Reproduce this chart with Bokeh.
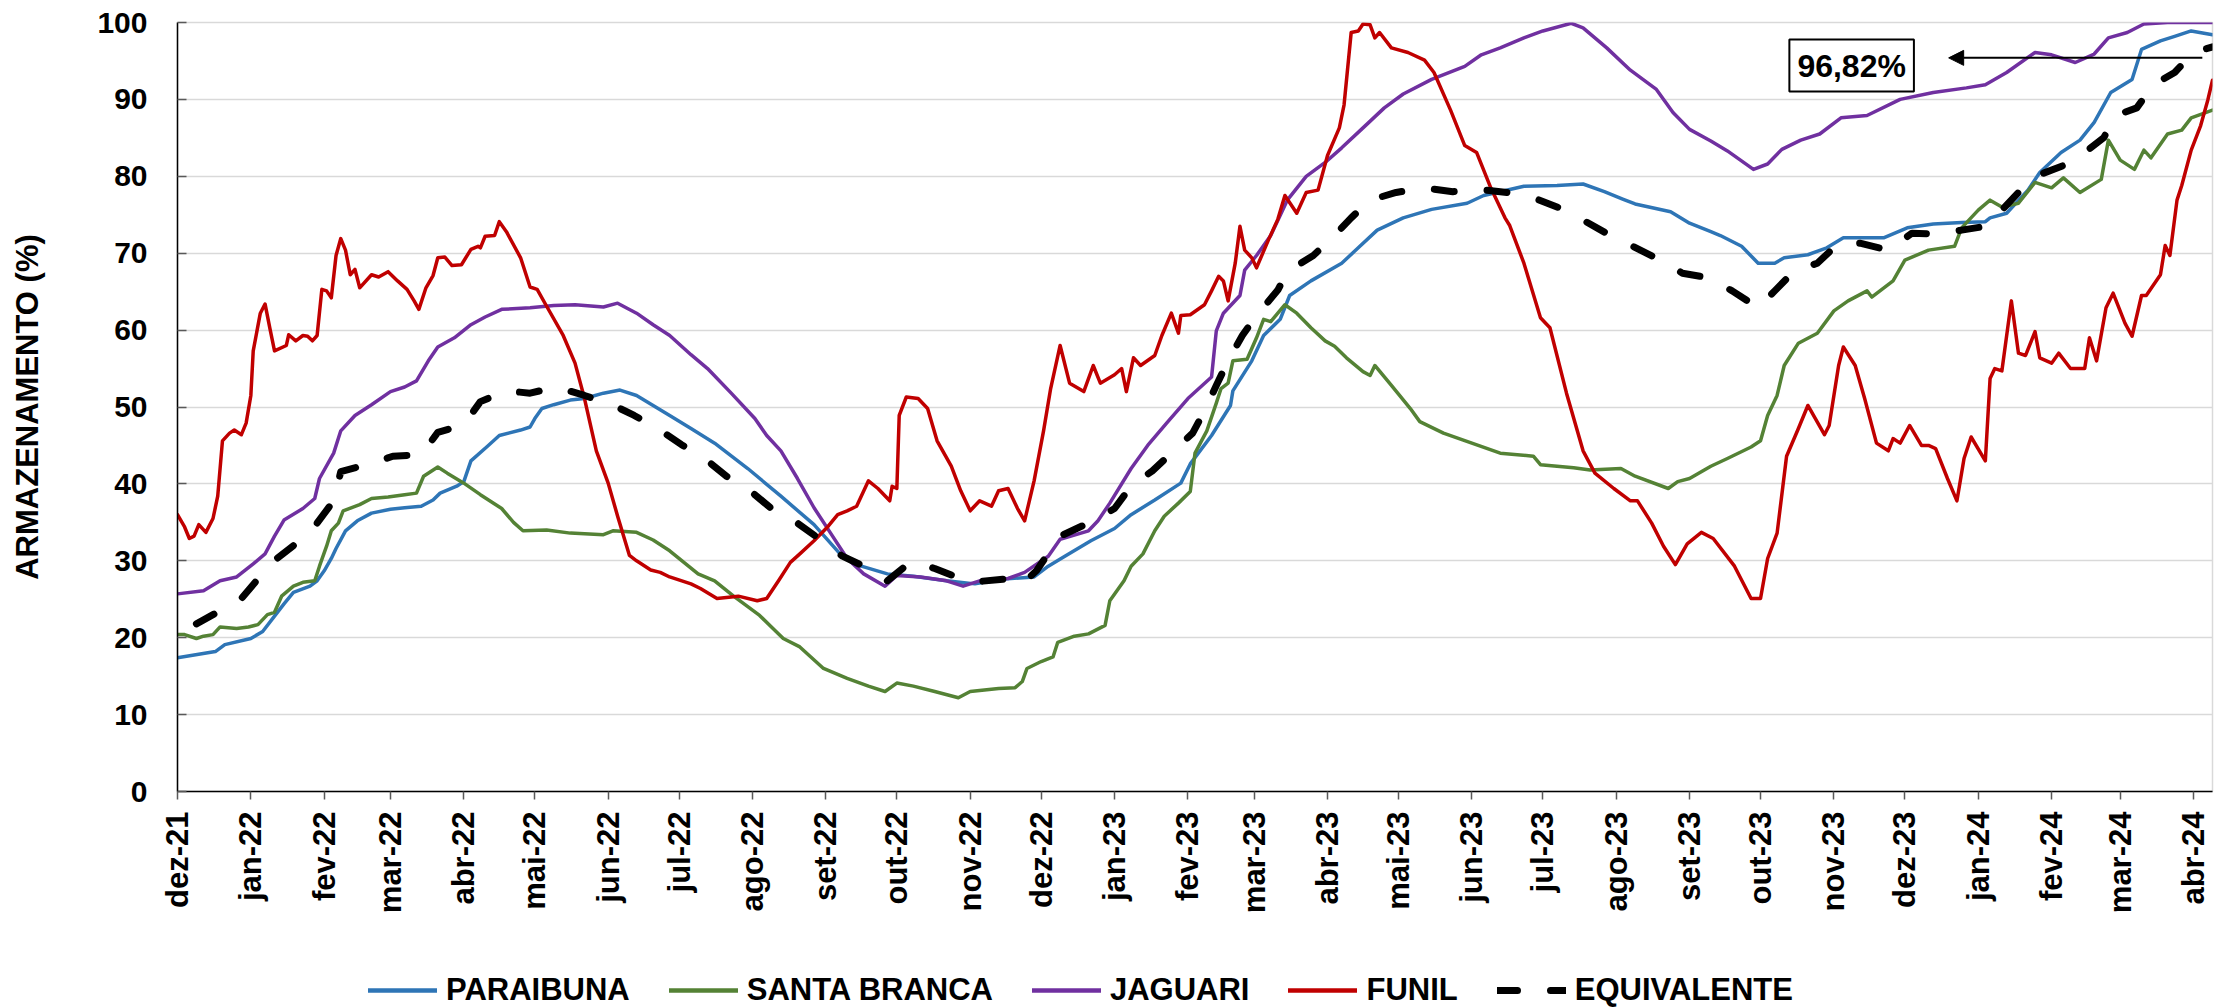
import math
import pandas as pd
from bokeh.plotting import figure
from bokeh.layouts import column
from bokeh.models import Range1d, FixedTicker, Legend, LegendItem, Label, Arrow, NormalHead
from bokeh.embed import file_html
from bokeh.resources import INLINE

# ---------------- data (x = days since 2021-12-01, y = % storage) ----------------
START = "2021-12-01"
month_labels = ["dez-21", "jan-22", "fev-22", "mar-22", "abr-22", "mai-22", "jun-22", "jul-22",
                "ago-22", "set-22", "out-22", "nov-22", "dez-22", "jan-23", "fev-23", "mar-23",
                "abr-23", "mai-23", "jun-23", "jul-23", "ago-23", "set-23", "out-23", "nov-23",
                "dez-23", "jan-24", "fev-24", "mar-24", "abr-24"]

paraibuna_day = [0, 16, 20, 31, 36, 41, 45, 49, 56, 59, 62, 65, 67, 71, 76, 82, 90, 96, 103, 108,
                 111, 118, 121, 124, 131, 136, 145, 149, 151, 154, 159, 166, 172, 180, 187, 194, 201, 208, 217, 227,
                 241, 255, 269, 280, 289, 300, 311, 325, 337, 348, 362, 368, 375, 386, 396, 403, 413, 424, 428, 437,
                 445, 446, 454, 459, 466, 470, 479, 492, 499, 507, 518, 530, 545, 552, 569, 583, 594, 603, 611, 616,
                 631, 639, 648, 652, 661, 668, 675, 679, 689, 697, 704, 721, 731, 742, 754, 764, 766, 773, 782, 787,
                 796, 804, 810, 817, 826, 830, 838, 844, 851, 860]
paraibuna_pct = [17.4, 18.2, 19.1, 19.9, 20.8, 22.8, 24.4, 25.9, 26.7, 27.4, 28.7, 30.3, 31.6, 33.9, 35.2, 36.2, 36.7, 36.9, 37.1, 37.9,
                 38.8, 39.7, 40.3, 43.0, 44.9, 46.3, 47.0, 47.4, 48.5, 49.8, 50.3, 50.9, 51.1, 51.8, 52.2, 51.5, 50.2, 48.9, 47.2, 45.3,
                 42.0, 38.4, 34.7, 30.9, 29.3, 28.3, 28.0, 27.4, 27.0, 27.6, 27.9, 29.3, 30.6, 32.6, 34.2, 36.0, 37.9, 40.1, 42.6, 46.3,
                 50.2, 52.1, 56.0, 59.3, 61.4, 64.5, 66.4, 68.7, 70.7, 73.0, 74.6, 75.7, 76.5, 77.5, 78.7, 78.8, 79.0, 78.0, 77.0, 76.4,
                 75.4, 73.9, 72.8, 72.3, 70.9, 68.7, 68.7, 69.4, 69.8, 70.7, 72.0, 72.0, 73.3, 73.8, 74.0, 74.1, 74.6, 75.2, 78.2, 80.5,
                 83.1, 84.7, 87.0, 90.9, 92.6, 96.5, 97.6, 98.2, 98.9, 98.4]

santa_branca_day = [0, 3, 8, 11, 15, 18, 25, 30, 34, 38, 41, 44, 49, 53, 58, 60, 63, 65, 68, 70,
                    77, 82, 89, 96, 101, 104, 110, 114, 121, 128, 137, 142, 146, 156, 166, 180, 184, 194, 201, 208,
                    220, 227, 235, 246, 251, 256, 263, 273, 283, 292, 299, 304, 311, 320, 330, 335, 347, 354, 357, 359,
                    365, 370, 372, 379, 385, 392, 394, 400, 403, 408, 413, 417, 423, 428, 430, 435, 439, 441, 444, 446,
                    452, 456, 459, 462, 468, 473, 479, 485, 489, 494, 501, 504, 506, 513, 521, 525, 535, 547, 559, 573,
                    576, 590, 597, 610, 616, 630, 634, 639, 648, 655, 665, 669, 672, 676, 679, 685, 693, 700, 706, 714,
                    716, 725, 730, 740, 751, 754, 761, 766, 771, 778, 785, 792, 797, 804, 813, 816, 821, 827, 831, 834,
                    841, 847, 851, 860]
santa_branca_pct = [20.4, 20.4, 19.9, 20.2, 20.4, 21.4, 21.2, 21.4, 21.7, 23.0, 23.3, 25.4, 26.7, 27.2, 27.4, 29.3, 31.9, 33.9, 34.9, 36.5,
                    37.3, 38.1, 38.3, 38.6, 38.8, 41.0, 42.2, 41.4, 40.1, 38.6, 36.8, 35.0, 33.9, 34.0, 33.6, 33.4, 33.9, 33.7, 32.7, 31.3,
                    28.3, 27.4, 25.4, 22.9, 21.4, 19.9, 18.8, 16.0, 14.7, 13.7, 13.0, 14.1, 13.7, 13.0, 12.2, 13.0, 13.4, 13.5, 14.3, 16.0,
                    16.9, 17.5, 19.4, 20.2, 20.5, 21.6, 24.8, 27.4, 29.3, 30.9, 33.9, 35.8, 37.5, 39.0, 44.0, 46.9, 50.5, 52.4, 53.1, 56.0,
                    56.2, 59.0, 61.4, 61.1, 63.3, 62.2, 60.3, 58.6, 57.9, 56.4, 54.6, 54.1, 55.4, 52.8, 49.8, 48.1, 46.6, 45.3, 44.0, 43.6,
                    42.5, 42.1, 41.8, 42.0, 41.0, 39.4, 40.3, 40.7, 42.3, 43.3, 44.8, 45.6, 48.9, 51.5, 55.4, 58.3, 59.6, 62.5, 63.8, 65.1,
                    64.3, 66.4, 69.1, 70.4, 70.9, 73.3, 75.6, 76.9, 76.0, 76.5, 79.2, 78.5, 79.8, 77.9, 79.6, 84.7, 82.1, 80.9, 83.4, 82.4,
                    85.5, 86.0, 87.6, 88.6]

jaguari_day = [0, 11, 18, 25, 32, 37, 41, 45, 53, 58, 60, 66, 69, 75, 82, 90, 96, 101, 106, 110,
               117, 124, 130, 137, 149, 159, 168, 180, 186, 194, 201, 208, 217, 224, 234, 244, 249, 255, 262, 269,
               276, 283, 290, 299, 304, 314, 325, 332, 339, 351, 358, 368, 373, 385, 389, 394, 403, 410, 418, 427,
               437, 439, 442, 449, 451, 456, 462, 469, 477, 485, 492, 501, 510, 518, 530, 544, 551, 559, 569, 577,
               589, 594, 604, 614, 625, 632, 639, 648, 655, 666, 672, 678, 686, 694, 703, 714, 728, 742, 756, 764,
               773, 785, 792, 802, 810, 816, 824, 831, 841, 860]
jaguari_pct = [25.7, 26.1, 27.4, 27.9, 29.6, 30.9, 33.2, 35.3, 36.8, 38.1, 40.7, 44.0, 46.9, 48.9, 50.3, 52.0, 52.6, 53.4, 56.0, 57.8,
               59.0, 60.7, 61.7, 62.7, 62.9, 63.2, 63.3, 63.0, 63.5, 62.2, 60.7, 59.3, 56.8, 55.0, 51.8, 48.5, 46.3, 44.3, 40.7, 36.9,
               33.6, 30.3, 28.3, 26.7, 28.1, 27.9, 27.4, 26.7, 27.4, 27.7, 28.5, 30.6, 32.8, 33.9, 35.2, 37.5, 42.0, 45.0, 47.9, 51.1,
               53.9, 59.9, 62.2, 64.5, 67.8, 69.7, 72.3, 76.9, 80.0, 81.8, 83.7, 86.3, 88.9, 90.7, 92.6, 94.3, 95.8, 96.7, 98.0, 98.9,
               99.9, 99.3, 96.7, 93.8, 91.3, 88.3, 86.1, 84.6, 83.3, 80.9, 81.6, 83.5, 84.7, 85.5, 87.6, 87.9, 90.0, 90.9, 91.5, 91.9,
               93.5, 96.1, 95.8, 94.8, 95.9, 98.0, 98.7, 99.8, 100.0, 100.0]

funil_day = [0, 3, 5, 7, 9, 12, 15, 17, 19, 22, 24, 27, 29, 31, 32, 35, 37, 39, 41, 46,
             47, 50, 53, 55, 57, 59, 61, 63, 65, 67, 69, 71, 73, 75, 77, 82, 85, 89, 93, 97,
             100, 102, 105, 108, 110, 113, 116, 120, 124, 127, 128, 130, 134, 136, 139, 145, 149, 152, 156, 163,
             168, 172, 177, 182, 186, 191, 194, 200, 204, 208, 217, 221, 228, 237, 245, 249, 254, 259, 263, 269,
             275, 279, 283, 287, 292, 296, 301, 302, 304, 305, 308, 313, 317, 321, 327, 331, 335, 339, 344, 347,
             351, 355, 358, 362, 366, 369, 373, 377, 383, 387, 390, 396, 399, 401, 404, 407, 413, 416, 420, 423,
             424, 428, 434, 437, 440, 442, 444, 447, 449, 451, 454, 456, 461, 465, 468, 473, 477, 482, 486, 491,
             493, 496, 499, 501, 504, 506, 508, 513, 520, 527, 531, 538, 544, 549, 555, 561, 563, 569, 576, 580,
             587, 594, 599, 607, 614, 617, 623, 628, 633, 638, 644, 649, 658, 665, 669, 672, 676, 680, 685, 689,
             696, 698, 702, 704, 709, 713, 718, 723, 725, 728, 732, 737, 740, 743, 748, 752, 755, 758, 764, 766,
             768, 771, 775, 778, 781, 785, 787, 792, 795, 800, 806, 808, 811, 815, 818, 823, 826, 830, 832, 838,
             840, 842, 845, 847, 851, 855, 858, 860]
funil_pct = [36.0, 34.4, 32.9, 33.2, 34.7, 33.7, 35.5, 38.4, 45.6, 46.6, 47.0, 46.4, 47.9, 51.5, 57.3, 62.2, 63.4, 60.3, 57.3, 58.0,
             59.4, 58.6, 59.3, 59.2, 58.6, 59.3, 65.3, 65.1, 64.2, 69.7, 71.9, 70.4, 67.2, 67.9, 65.5, 67.2, 66.9, 67.6, 66.4, 65.3,
             63.8, 62.7, 65.5, 67.1, 69.4, 69.5, 68.4, 68.5, 70.5, 70.9, 70.7, 72.2, 72.3, 74.1, 72.8, 69.4, 65.6, 65.3, 63.1, 59.3,
             55.7, 51.1, 44.3, 40.1, 35.8, 30.7, 30.0, 28.8, 28.5, 27.9, 27.0, 26.4, 25.1, 25.4, 24.8, 25.1, 27.4, 29.8, 30.9, 32.6,
             34.5, 36.0, 36.5, 37.1, 40.4, 39.4, 37.8, 39.7, 39.4, 48.9, 51.3, 51.1, 49.8, 45.6, 42.3, 39.1, 36.5, 37.8, 37.1, 39.1,
             39.4, 36.8, 35.2, 40.4, 46.9, 52.4, 58.0, 53.1, 52.0, 55.4, 53.1, 54.2, 55.0, 52.0, 56.4, 55.4, 56.7, 59.3, 62.2, 59.6,
             61.9, 62.0, 63.3, 65.1, 67.0, 66.4, 63.8, 68.7, 73.5, 70.4, 69.4, 68.1, 71.7, 74.4, 77.5, 75.2, 77.9, 78.2, 82.7, 86.3,
             89.3, 98.7, 98.9, 99.8, 99.7, 98.0, 98.7, 96.7, 96.1, 95.1, 93.5, 88.6, 84.0, 83.1, 78.5, 74.6, 73.6, 68.7, 61.6, 60.3,
             51.8, 44.3, 41.4, 39.4, 37.8, 37.8, 34.9, 31.9, 29.5, 32.2, 33.7, 32.9, 29.3, 25.1, 25.1, 30.3, 33.6, 43.6, 47.2, 50.2,
             46.4, 47.6, 55.4, 57.8, 55.4, 51.1, 45.3, 44.3, 45.9, 45.3, 47.6, 45.0, 45.0, 44.6, 40.7, 37.8, 43.3, 46.1, 43.0, 53.7,
             55.0, 54.7, 63.8, 57.0, 56.7, 59.8, 56.4, 55.7, 57.0, 55.0, 55.0, 59.0, 56.0, 62.9, 64.8, 60.9, 59.2, 64.5, 64.5, 67.2,
             71.0, 69.7, 76.9, 78.8, 83.4, 86.6, 89.9, 92.5]

equivalente_day = [8, 18, 27, 35, 42, 52, 59, 66, 69, 80, 91, 103, 110, 121, 128, 139, 149, 160, 172, 183,
                   193, 203, 213, 222, 232, 242, 251, 262, 271, 281, 292, 300, 310, 320, 335, 352, 357, 363, 373, 387,
                   396, 403, 412, 420, 429, 434, 439, 444, 450, 456, 465, 469, 480, 488, 496, 504, 515, 527, 539, 550,
                   562, 573, 584, 594, 605, 615, 626, 636, 647, 657, 668, 675, 683, 693, 701, 711, 723, 733, 744, 754,
                   764, 771, 778, 786, 797, 806, 814, 819, 828, 835, 844, 852, 860]
equivalente_pct = [21.8, 23.5, 25.1, 28.0, 30.3, 32.7, 34.9, 37.8, 41.6, 42.5, 43.6, 43.8, 46.7, 47.7, 50.7, 52.1, 51.8, 52.6, 51.5, 50.4,
                   48.9, 47.2, 45.1, 43.5, 41.0, 39.1, 36.8, 34.9, 32.9, 30.6, 29.0, 27.4, 29.9, 29.0, 27.2, 27.7, 27.0, 28.7, 33.2, 35.2,
                   36.8, 39.7, 41.7, 44.0, 46.6, 49.5, 52.8, 56.0, 59.3, 61.9, 65.2, 67.6, 69.7, 72.0, 74.6, 76.9, 77.9, 78.5, 78.0, 78.3,
                   77.9, 77.2, 75.9, 74.3, 72.4, 70.9, 69.2, 67.4, 66.8, 65.1, 62.9, 65.1, 67.6, 68.7, 71.0, 71.3, 70.4, 72.6, 72.5, 73.0,
                   73.5, 75.6, 77.9, 80.1, 81.4, 83.1, 85.0, 87.9, 88.9, 91.9, 93.5, 96.1, 96.82]

annotation_text = "96,82%"
annotation_x, annotation_y = 707.5, 94.4
arrow_x_start, arrow_x_end, arrow_y = 855.7, 748.5, 95.4

# ---------------- main figure ----------------
FONT = "Liberation Sans"
start = pd.Timestamp(START)
months = pd.date_range(START, periods=len(month_labels), freq="MS")
month_days = [int((m - start).days) for m in months]

p = figure(width=2218, height=930, output_backend="svg", toolbar_location=None,
           x_range=Range1d(0, 860), y_range=Range1d(0, 100),
           min_border_left=177, min_border_right=6, min_border_top=22, min_border_bottom=139)
p.background_fill_color = "white"
p.border_fill_color = "white"
p.outline_line_color = "#d9d9d9"
p.outline_line_width = 1.5

p.xgrid.grid_line_color = None
p.ygrid.grid_line_color = "#d9d9d9"
p.ygrid.grid_line_width = 1.5

p.xaxis.ticker = FixedTicker(ticks=month_days)
p.xaxis.major_label_overrides = {d: l for d, l in zip(month_days, month_labels)}
p.xaxis.major_label_orientation = math.pi / 2
p.xaxis.major_tick_out = 8
p.xaxis.major_tick_in = 0
p.xaxis.major_label_standoff = 12
p.yaxis.ticker = FixedTicker(ticks=list(range(0, 101, 10)))
p.yaxis.major_tick_in = 9
p.yaxis.major_tick_out = 0
p.yaxis.major_label_standoff = 30
p.yaxis.axis_label = "ARMAZENAMENTO (%)"
p.yaxis.axis_label_standoff = 49
p.yaxis.axis_label_text_font = FONT
p.yaxis.axis_label_text_font_size = "31px"
p.yaxis.axis_label_text_font_style = "bold"
p.yaxis.axis_label_text_color = "black"
for ax in (p.xaxis, p.yaxis):
    ax.minor_tick_line_color = None
    ax.axis_line_color = "black"
    ax.axis_line_width = 1.5
    ax.major_tick_line_color = "#595959"
    ax.major_tick_line_width = 1.5
    ax.major_label_text_font = FONT
    ax.major_label_text_font_style = "bold"
    ax.major_label_text_color = "black"
p.xaxis.major_label_text_font_size = "31px"
p.yaxis.major_label_text_font_size = "30px"

series = [
    ("PARAIBUNA", paraibuna_day, paraibuna_pct, "#2E75B6", 3.5, "solid"),
    ("SANTA BRANCA", santa_branca_day, santa_branca_pct, "#548235", 3.5, "solid"),
    ("JAGUARI", jaguari_day, jaguari_pct, "#7030A0", 3.5, "solid"),
    ("FUNIL", funil_day, funil_pct, "#C00000", 3.5, "solid"),
    ("EQUIVALENTE", equivalente_day, equivalente_pct, "black", 7, "20 33"),
]
for name, xs, ys, color, lw, dash in series:
    p.line(xs, ys, line_color=color, line_width=lw, line_dash=dash,
           line_join="round", line_cap="round")

p.add_layout(Arrow(end=NormalHead(size=15, fill_color="black", line_color="black", line_width=1),
                   x_start=arrow_x_start, y_start=arrow_y, x_end=arrow_x_end, y_end=arrow_y,
                   line_color="black", line_width=2))
p.add_layout(Label(x=annotation_x, y=annotation_y, text=annotation_text,
                   text_align="center", text_baseline="middle",
                   text_font=FONT, text_font_size="32px", text_font_style="bold",
                   text_color="black", border_line_color="black", border_line_width=2,
                   background_fill_color="white", padding=8))

# ---------------- legend strip (separate figure so nothing is clipped) ----------------
lg = figure(width=2218, height=78, output_backend="svg", toolbar_location=None,
            x_range=Range1d(0, 1), y_range=Range1d(0, 1), min_border=0,
            x_axis_type=None, y_axis_type=None)
lg.outline_line_color = None
lg.background_fill_color = "white"
lg.border_fill_color = "white"
items = []
for name, xs, ys, color, lw, dash in series:
    r = lg.line([5, 6], [5, 6], line_color=color, line_width=lw + 1 if lw < 5 else lw,
                line_dash=dash, line_cap="round")
    items.append(LegendItem(label=name, renderers=[r]))
legend = Legend(items=items, location=(191, 0), orientation="horizontal",
                glyph_width=69, glyph_height=20, label_standoff=9, spacing=39,
                padding=0, margin=0, border_line_color=None, background_fill_alpha=0,
                label_text_font=FONT, label_text_font_size="31px",
                label_text_font_style="bold", label_text_color="black")
lg.add_layout(legend)

layout = column(p, lg, spacing=0)
open("out.html", "w").write(file_html(layout, INLINE))
